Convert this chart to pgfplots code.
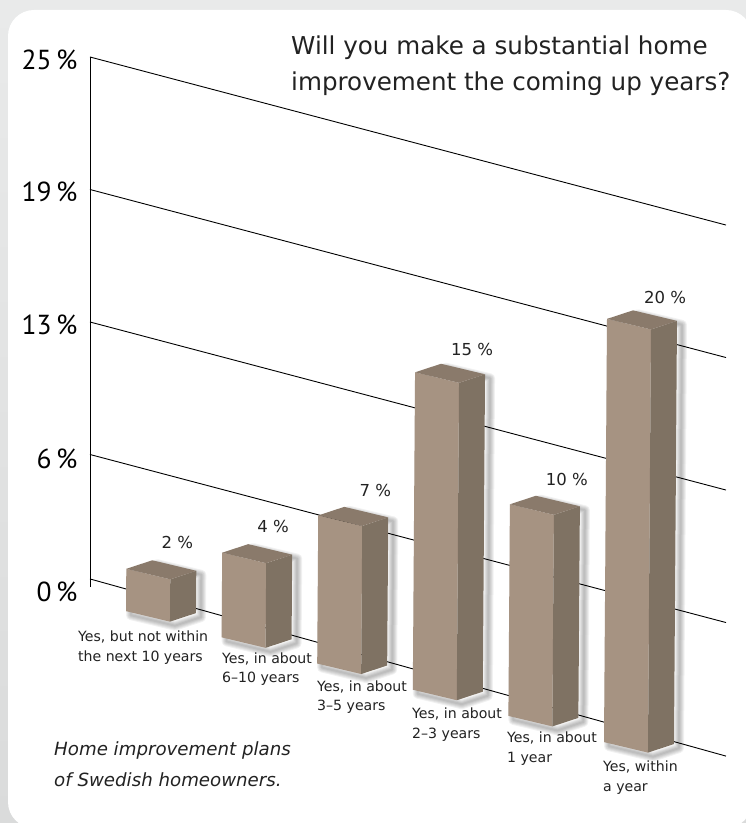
\documentclass[border=0pt]{standalone}
\usepackage{pgfplots}
\pgfplotsset{compat=1.18}
\usepackage{fontspec}
\setmainfont{DejaVu Sans}
\newfontfamily\tickfont{PT Sans}
\definecolor{panelhi}{HTML}{E9EAEA}
\definecolor{panello}{HTML}{DADBDB}
\definecolor{titleink}{HTML}{222222}
\definecolor{barfront}{HTML}{A69382}
\definecolor{barside}{HTML}{7F7263}
\definecolor{bartop}{HTML}{8A7A6B}

% soft shadow ring around the silhouette of the current bar
\newcommand{\barshadow}[1]{%
  \addplot[draw=black, line width=#1pt, draw opacity=0.055, line join=round, fill=none, xshift=5pt, yshift=-4pt]
    coordinates {(\xa,\ya) (\xb,\yb) (\xc,\yc) (\xct,\yct) (\xdt,\ydt) (\xat,\yat)} -- cycle;
}
% #1 position along the row, #2 value in percent, #3 #4 label offset
\newcommand{\threedbar}[4]{%
  \pgfmathsetmacro\xa{0.3766+#1-1}
  \pgfmathsetmacro\xb{\xa+0.46}
  \pgfmathsetmacro\xc{\xb+0.272}
  \pgfmathsetmacro\lean{0.00157*#2}
  \pgfmathsetmacro\xat{\xa+\lean}
  \pgfmathsetmacro\xbt{\xb+\lean}
  \pgfmathsetmacro\xct{\xc+\lean}
  \pgfmathsetmacro\xdt{\xa+0.272+\lean}
  \pgfmathsetmacro\ya{-0.69-0.044*(#1-1)}
  \pgfmathsetmacro\yb{\ya+0.052}
  \pgfmathsetmacro\yc{\yb+0.727}
  \pgfmathsetmacro\yat{\ya+#2}
  \pgfmathsetmacro\ybt{\yb+#2}
  \pgfmathsetmacro\yct{\yc+#2}
  \pgfmathsetmacro\ydt{\ya+0.727+#2}
  \barshadow{10}\barshadow{8}\barshadow{6}\barshadow{4}\barshadow{2}
  \addplot[fill=barfront, draw=none] coordinates {(\xa,\ya) (\xb,\yb) (\xbt,\ybt) (\xat,\yat)} -- cycle;
  \addplot[fill=barside, draw=none] coordinates {(\xb,\yb) (\xc,\yc) (\xct,\yct) (\xbt,\ybt)} -- cycle;
  \addplot[fill=bartop, draw=none] coordinates {(\xat,\yat) (\xbt,\ybt) (\xct,\yct) (\xdt,\ydt)} -- cycle;
  \edef\barlabel{\noexpand\node[font=\noexpand\fontsize{16.5}{20}\noexpand\selectfont, text=titleink, xshift=#3pt, yshift=#4pt]
    at (axis cs:\xdt,\ydt) {#2 \noexpand\%};}
  \barlabel
}
\newcommand{\txt}[4][]{\node[anchor=base west, inner sep=0pt, text=titleink, #1] at (#2pt,{823pt-#3pt}) {#4};}

\begin{document}
\begin{tikzpicture}[x=1pt,y=1pt]
  \path[use as bounding box] (0,0) rectangle (746pt,823pt);
  \shade[top color=panelhi, bottom color=panello] (0,0) rectangle (746pt,823pt);
  \fill[white, rounded corners=26pt] (8pt,-5pt) rectangle (752pt,813pt);

  \begin{axis}[
    anchor=origin, at={(90pt,236pt)},
    x={(95.6pt,-25.26pt)}, y={(0pt,21.2pt)},
    xmin=0, xmax=6.653, ymin=0, ymax=25,
    clip=false,
    hide x axis,
    axis y line=left,
    axis line style={-, black, line width=0.9pt},
    ytick={6.25,12.5,18.75,25},
    yticklabels={6\,\%,13\,\%,19\,\%,25\,\%},
    extra y ticks={0},
    extra y tick labels={0\,\%},
    extra y tick style={grid=none},
    yticklabel style={font=\tickfont\fontsize{27.5}{30}\selectfont, text=black, yshift=-11pt, xshift=-9pt},
    major tick length=0pt,
    ymajorgrids,
    major grid style={black, line width=0.9pt},
  ]
    % the floor line runs a little above the zero tick at the wall
    \addplot[black, line width=0.9pt] coordinates {(0,0.38) (6.653,-0.05)};
    \threedbar{1}{2}{25}{18}
    \threedbar{2}{4}{25}{18}
    \threedbar{3}{7}{31}{16}
    \threedbar{4}{15}{31}{14}
    \threedbar{5}{10}{31}{16}
    \threedbar{6}{20}{32}{13}
  \end{axis}

  \txt{291}{55}{\fontsize{24.6}{28}\selectfont Will you make a substantial home}
  \txt{291}{91}{\fontsize{24.6}{28}\selectfont improvement the coming up years?}

  \txt{78}{642}{\fontsize{14.1}{15}\selectfont Yes, but not within}
  \txt{78}{662}{\fontsize{14.1}{15}\selectfont the next 10 years}
  \txt{222}{664}{\fontsize{14.1}{15}\selectfont Yes, in about}
  \txt{222}{683}{\fontsize{14.1}{15}\selectfont 6--10 years}
  \txt{317}{692}{\fontsize{14.1}{15}\selectfont Yes, in about}
  \txt{317}{711}{\fontsize{14.1}{15}\selectfont 3--5 years}
  \txt{412}{719}{\fontsize{14.1}{15}\selectfont Yes, in about}
  \txt{412}{739}{\fontsize{14.1}{15}\selectfont 2--3 years}
  \txt{507}{743}{\fontsize{14.1}{15}\selectfont Yes, in about}
  \txt{507}{763}{\fontsize{14.1}{15}\selectfont 1 year}
  \txt{603}{772}{\fontsize{14.1}{15}\selectfont Yes, within}
  \txt{603}{792}{\fontsize{14.1}{15}\selectfont a year}

  \txt{54}{756}{\fontsize{18.2}{20}\itshape\selectfont Home improvement plans}
  \txt{54}{787}{\fontsize{18.2}{20}\itshape\selectfont of Swedish homeowners.}
\end{tikzpicture}
\end{document}
